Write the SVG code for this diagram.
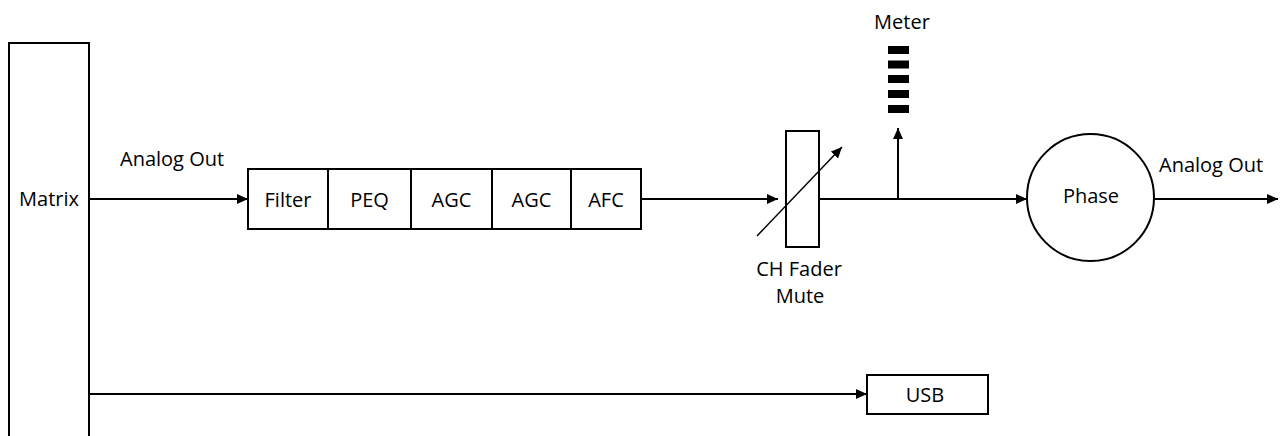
<svg xmlns="http://www.w3.org/2000/svg" width="1283" height="436" viewBox="0 0 1283 436">
<defs>
<style>
.box{fill:#fff;stroke:#000;stroke-width:2}
.ln{fill:none;stroke:#000;stroke-width:2}
.t{font-family:"Open Sans","Liberation Sans",sans-serif;font-size:20px;fill:#000;text-anchor:middle}
.tl{font-family:"Open Sans","Liberation Sans",sans-serif;font-size:20px;fill:#000}
</style>
<marker id="ah" markerUnits="userSpaceOnUse" markerWidth="12" markerHeight="12" refX="11" refY="5" orient="auto">
<path d="M0,0 L11,5 L0,10 z" fill="#000"/>
</marker>
</defs>
<rect width="1283" height="436" fill="#fff"/>
<g id="matrix">
<path class="ln" d="M9,440 V43 H89 V440"/>
<text class="t" x="49" y="206">Matrix</text>
</g>
<g id="chain">
<rect class="box" x="248" y="169" width="393" height="60"/>
<line class="ln" x1="328" y1="169" x2="328" y2="229"/>
<line class="ln" x1="411" y1="169" x2="411" y2="229"/>
<line class="ln" x1="492" y1="169" x2="492" y2="229"/>
<line class="ln" x1="571" y1="169" x2="571" y2="229"/>
<text class="t" x="288" y="207">Filter</text>
<text class="t" x="369.5" y="207">PEQ</text>
<text class="t" x="451.5" y="207">AGC</text>
<text class="t" x="531.5" y="207">AGC</text>
<text class="t" x="606" y="207">AFC</text>
</g>
<g id="fader">
<rect class="box" x="786" y="131" width="33" height="116"/>
<line x1="757" y1="236" x2="842" y2="147" stroke="#000" stroke-width="1.5" marker-end="url(#ah)"/>
<text class="t" x="799" y="276">CH Fader</text>
<text class="t" x="800" y="303">Mute</text>
</g>
<g id="meter">
<text class="t" x="902" y="29">Meter</text>
<rect x="888" y="46" width="21" height="8" fill="#000"/>
<rect x="888" y="60.5" width="21" height="8" fill="#000"/>
<rect x="888" y="75" width="21" height="8" fill="#000"/>
<rect x="888" y="90" width="21" height="8" fill="#000"/>
<rect x="888" y="105" width="21" height="8" fill="#000"/>
</g>
<g id="phase">
<circle class="box" cx="1090.5" cy="197.5" r="63.5"/>
<text class="t" x="1091" y="203">Phase</text>
</g>
<g id="usb">
<rect class="box" x="867" y="375" width="121" height="39"/>
<text class="t" x="925" y="402">USB</text>
</g>
<g id="connectors">
<line class="ln" x1="89" y1="199" x2="248" y2="199" marker-end="url(#ah)"/>
<text class="tl" x="120" y="166">Analog Out</text>
<line class="ln" x1="641" y1="199" x2="778" y2="199" marker-end="url(#ah)"/>
<line class="ln" x1="819" y1="199" x2="1027" y2="199" marker-end="url(#ah)"/>
<line class="ln" x1="898" y1="199" x2="898" y2="128" marker-end="url(#ah)"/>
<line class="ln" x1="1154" y1="199" x2="1278" y2="199" marker-end="url(#ah)"/>
<text class="tl" x="1159" y="172">Analog Out</text>
<line class="ln" x1="89" y1="394" x2="867" y2="394" marker-end="url(#ah)"/>
</g>
</svg>
